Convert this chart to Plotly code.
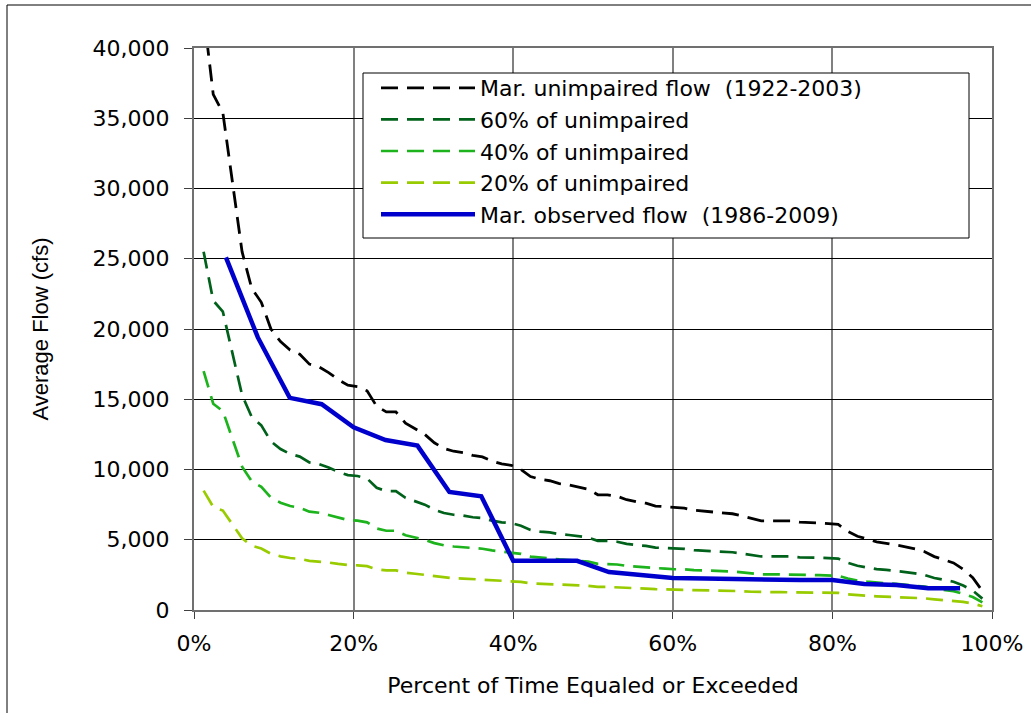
import plotly.graph_objects as go

# ---- data -------------------------------------------------------------
# March unimpaired flow, 1922-2003 (82 years), ranked high to low, cfs
unimpaired_flow = [
    42500, 36700, 35400, 30600, 25500, 22900, 21900, 20000, 19100, 18500,
    18200, 17500, 17300, 16900, 16400, 16000, 15900, 15600, 14500, 14100,
    14100, 13300, 12900, 12500, 11900, 11500, 11300, 11200, 11000, 10900,
    10600, 10400, 10300, 10000, 9500, 9300, 9200, 9000, 8900, 8750,
    8600, 8200, 8200, 8100, 7850, 7700, 7600, 7400, 7350, 7250,
    7250, 7100, 7050, 7000, 6900, 6850, 6700, 6500, 6350, 6350,
    6350, 6350, 6250, 6250, 6200, 6150, 6100, 5600, 5250, 5050,
    4850, 4750, 4650, 4500, 4350, 4150, 3800, 3550, 3350, 2900,
    2300, 1350,
]

# March observed flow, 1986-2009 (24 years), ranked high to low, cfs
observed_flow = [
    25100, 19400, 15100, 14650, 13000, 12100, 11700, 8400, 8100, 3500,
    3500, 3500, 2700, 2500, 2280, 2250, 2200, 2130, 2130, 2130,
    1850, 1780, 1550, 1550,
]

# fractions of the unimpaired flow shown as reference curves
fraction_names = ["60% of unimpaired", "40% of unimpaired", "20% of unimpaired"]
fraction_values = [0.6, 0.4, 0.2]
fraction_colors = ["#00611A", "#1DB31D", "#99CC00"]

y_ticks = list(range(0, 40001, 5000))
x_ticks = [0, 0.2, 0.4, 0.6, 0.8, 1.0]

# Weibull plotting position: rank / (n + 1)
n_u = len(unimpaired_flow)
unimpaired_pct = [(i + 1) / (n_u + 1) for i in range(n_u)]
n_o = len(observed_flow)
observed_pct = [(i + 1) / (n_o + 1) for i in range(n_o)]

FONT = "DejaVu Sans"
DASH = "17px,9px"

fig = go.Figure()

fig.add_trace(go.Scatter(
    x=unimpaired_pct, y=unimpaired_flow, mode="lines",
    name="Mar. unimpaired flow\u00a0 (1922-2003)",
    line=dict(color="#000000", width=2.8, dash=DASH),
    legendgroup="a",
))
for k, (nm, fr, col) in enumerate(zip(fraction_names, fraction_values, fraction_colors)):
    fig.add_trace(go.Scatter(
        x=unimpaired_pct, y=[v * fr for v in unimpaired_flow], mode="lines",
        name=nm, line=dict(color=col, width=2.7, dash=DASH),
        legendgroup="f%d" % k,
    ))
fig.add_trace(go.Scatter(
    x=observed_pct, y=observed_flow, mode="lines",
    name="Mar. observed flow\u00a0 (1986-2009)",
    line=dict(color="#0000CC", width=4.5),
    legendgroup="o",
))

W, H = 1031, 713
L, R, T, B = 194, 39, 48, 103
pw, ph = W - L - R, H - T - B

def px_x(p):
    return (p - L) / pw

def px_y(p):
    return (H - B - p) / ph

shapes = [
    # outer frame of the chart
    dict(type="rect", xref="paper", yref="paper",
         x0=px_x(7), x1=px_x(1040), y0=px_y(725), y1=px_y(5),
         line=dict(color="black", width=1), fillcolor="rgba(0,0,0,0)", layer="below"),
    # legend box
    dict(type="rect", xref="paper", yref="paper",
         x0=px_x(363), x1=px_x(969), y0=px_y(238), y1=px_y(73),
         line=dict(color="black", width=1), fillcolor="white", layer="above"),
]

fig.update_layout(
    width=W, height=H,
    margin=dict(l=L, r=R, t=T, b=B, autoexpand=False),
    paper_bgcolor="white", plot_bgcolor="white",
    font=dict(family=FONT, size=22, color="black"),
    showlegend=True,
    legend=dict(
        x=px_x(376), y=px_y(67), xanchor="left", yanchor="top",
        bgcolor="rgba(0,0,0,0)", borderwidth=0,
        font=dict(family=FONT, size=22, color="black"),
        itemwidth=94, tracegroupgap=8, traceorder="normal",
    ),
    shapes=shapes,
)

fig.update_xaxes(
    range=[0, 1], tickvals=x_ticks, tickformat=".0%",
    showgrid=True, gridcolor="#808080", gridwidth=2,
    showline=True, linecolor="#707070", linewidth=2, mirror=True,
    ticks="outside", ticklen=7, tickcolor="#404040", tickwidth=1,
    ticklabelstandoff=6, zeroline=False,
    tickfont=dict(family=FONT, size=22),
    title=dict(text="Percent of Time Equaled or Exceeded",
               font=dict(family=FONT, size=22), standoff=22),
)
fig.update_yaxes(
    range=[0, 40000], tickvals=y_ticks, tickformat=",",
    showgrid=True, gridcolor="#000000", gridwidth=1,
    showline=True, linecolor="#707070", linewidth=2, mirror=True,
    ticks="outside", ticklen=8, tickcolor="#404040", tickwidth=1,
    ticklabelstandoff=10, zeroline=False,
    tickfont=dict(family=FONT, size=22),
    title=dict(text="Average Flow (cfs)",
               font=dict(family="Liberation Sans", size=22), standoff=38),
)

fig.write_html("out.html")
